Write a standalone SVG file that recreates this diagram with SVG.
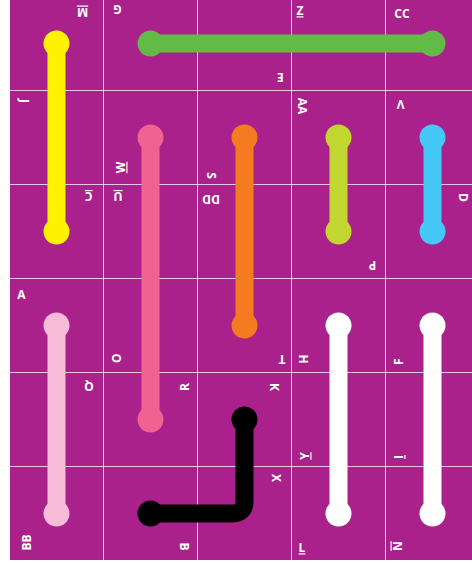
<svg xmlns="http://www.w3.org/2000/svg" width="472" height="563" viewBox="0 0 472 563">
<style>
.bg{fill:#aa218c}
.grid line{stroke:#ffffff;stroke-width:1;stroke-opacity:0.75}
.pipe{fill:none;stroke-width:18;stroke-linecap:butt;stroke-linejoin:round}
.lbl{font-family:"Open Sans","DejaVu Sans",sans-serif;font-weight:bold;font-size:12px;fill:#ffffff;text-anchor:middle}
.u{text-decoration:underline}
</style>
<rect x="0" y="0" width="472" height="563" fill="#ffffff"/>
<rect class="bg" x="10" y="0" width="462" height="560"/>
<g class="grid" id="grid">
<line x1="103.5" y1="0" x2="103.5" y2="560"/>
<line x1="197.5" y1="0" x2="197.5" y2="560"/>
<line x1="291.5" y1="0" x2="291.5" y2="560"/>
<line x1="385.5" y1="0" x2="385.5" y2="560"/>
<line x1="10" y1="90.5" x2="472" y2="90.5"/>
<line x1="10" y1="184.5" x2="472" y2="184.5"/>
<line x1="10" y1="278.5" x2="472" y2="278.5"/>
<line x1="10" y1="372.5" x2="472" y2="372.5"/>
<line x1="10" y1="466.5" x2="472" y2="466.5"/>
</g>
<g id="connectors">
<g id="pipe-yellow" stroke="#fff200" fill="#fff200"><path class="pipe" d="M56.5,43.5 V231.5"/><circle cx="56.5" cy="43.5" r="13" stroke="none"/><circle cx="56.5" cy="231.5" r="13" stroke="none"/></g>
<g id="pipe-green" stroke="#62bb47" fill="#62bb47"><path class="pipe" d="M150.5,43.5 H432.5"/><circle cx="150.5" cy="43.5" r="13" stroke="none"/><circle cx="432.5" cy="43.5" r="13" stroke="none"/></g>
<g id="pipe-pink" stroke="#f06292" fill="#f06292"><path class="pipe" d="M150.5,137.5 V419.5"/><circle cx="150.5" cy="137.5" r="13" stroke="none"/><circle cx="150.5" cy="419.5" r="13" stroke="none"/></g>
<g id="pipe-orange" stroke="#f47b20" fill="#f47b20"><path class="pipe" d="M244.5,137.5 V325.5"/><circle cx="244.5" cy="137.5" r="13" stroke="none"/><circle cx="244.5" cy="325.5" r="13" stroke="none"/></g>
<g id="pipe-lime" stroke="#c1d72f" fill="#c1d72f"><path class="pipe" d="M338.5,137.5 V231.5"/><circle cx="338.5" cy="137.5" r="13" stroke="none"/><circle cx="338.5" cy="231.5" r="13" stroke="none"/></g>
<g id="pipe-blue" stroke="#45c8f5" fill="#45c8f5"><path class="pipe" d="M432.5,137.5 V231.5"/><circle cx="432.5" cy="137.5" r="13" stroke="none"/><circle cx="432.5" cy="231.5" r="13" stroke="none"/></g>
<g id="pipe-lightpink" stroke="#f8bbd8" fill="#f8bbd8"><path class="pipe" d="M56.5,325.5 V513.5"/><circle cx="56.5" cy="325.5" r="13" stroke="none"/><circle cx="56.5" cy="513.5" r="13" stroke="none"/></g>
<g id="pipe-black" stroke="#000000" fill="#000000"><path class="pipe" d="M244.5,419.5 V501.5 Q244.5,513.5 232.5,513.5 H150.5"/><circle cx="244.5" cy="419.5" r="13" stroke="none"/><circle cx="150.5" cy="513.5" r="13" stroke="none"/></g>
<g id="pipe-white1" stroke="#ffffff" fill="#ffffff"><path class="pipe" d="M338.5,325.5 V513.5"/><circle cx="338.5" cy="325.5" r="13" stroke="none"/><circle cx="338.5" cy="513.5" r="13" stroke="none"/></g>
<g id="pipe-white2" stroke="#ffffff" fill="#ffffff"><path class="pipe" d="M432.5,325.5 V513.5"/><circle cx="432.5" cy="325.5" r="13" stroke="none"/><circle cx="432.5" cy="513.5" r="13" stroke="none"/></g>
</g>
<g id="labels">
<g id="lbl-M" transform="translate(82.5,12) rotate(180)"><text class="lbl u" x="0" y="4.3">M</text></g>
<g id="lbl-G" transform="translate(117.5,9) rotate(180)"><text class="lbl" x="0" y="4.3">G</text></g>
<g id="lbl-Z" transform="translate(300,11)"><text class="lbl u" x="0" y="4.3">Z</text></g>
<g id="lbl-CC" transform="translate(402,14)"><text class="lbl" x="0" y="4.3">CC</text></g>
<g id="lbl-E" transform="translate(280.5,77) rotate(180)"><text class="lbl" x="0" y="4.3">E</text></g>
<g id="lbl-J" transform="translate(24.5,101) rotate(90)"><text class="lbl" x="0" y="4.3">J</text></g>
<g id="lbl-W" transform="translate(121,167.5) rotate(-90)"><text class="lbl u" x="0" y="4.3">W</text></g>
<g id="lbl-S" transform="translate(211.5,175.5) rotate(90)"><text class="lbl" x="0" y="4.3">S</text></g>
<g id="lbl-C" transform="translate(88.7,196.5) rotate(180)"><text class="lbl u" x="0" y="4.3">C</text></g>
<g id="lbl-U" transform="translate(118,196.5) rotate(180)"><text class="lbl u" x="0" y="4.3">U</text></g>
<g id="lbl-DD" transform="translate(211,199) rotate(180)"><text class="lbl" x="0" y="4.3">DD</text></g>
<g id="lbl-AA" transform="translate(302,106) rotate(90)"><text class="lbl" x="0" y="4.3">AA</text></g>
<g id="lbl-V" transform="translate(400.7,104) rotate(180)"><text class="lbl" x="0" y="4.3">V</text></g>
<g id="lbl-D" transform="translate(463,197.5) rotate(90)"><text class="lbl" x="0" y="4.3">D</text></g>
<g id="lbl-P" transform="translate(372.5,265.5) rotate(180)"><text class="lbl" x="0" y="4.3">P</text></g>
<g id="lbl-A" transform="translate(21.3,294.3)"><text class="lbl" x="0" y="4.3">A</text></g>
<g id="lbl-O" transform="translate(116.7,358.3) rotate(90)"><text class="lbl" x="0" y="4.3">O</text></g>
<g id="lbl-Q" transform="translate(89,386.7) rotate(180)"><text class="lbl" x="0" y="4.3">Q</text></g>
<g id="lbl-R" transform="translate(184.7,387) rotate(-90)"><text class="lbl" x="0" y="4.3">R</text></g>
<g id="lbl-T" transform="translate(282,359.5) rotate(180)"><text class="lbl" x="0" y="4.3">T</text></g>
<g id="lbl-H" transform="translate(303.3,359) rotate(90)"><text class="lbl" x="0" y="4.3">H</text></g>
<g id="lbl-K" transform="translate(274,387) rotate(90)"><text class="lbl" x="0" y="4.3">K</text></g>
<g id="lbl-F" transform="translate(399,361.7) rotate(-90)"><text class="lbl" x="0" y="4.3">F</text></g>
<g id="lbl-Y" transform="translate(305,456) rotate(-90)"><text class="lbl u" x="0" y="4.3">Y</text></g>
<g id="lbl-I" transform="translate(399,457) rotate(-90)"><text class="lbl u" x="0" y="4.3">I</text></g>
<g id="lbl-X" transform="translate(276,478) rotate(90)"><text class="lbl" x="0" y="4.3">X</text></g>
<g id="lbl-BB" transform="translate(26.7,542.5) rotate(-90)"><text class="lbl" x="0" y="4.3">BB</text></g>
<g id="lbl-B" transform="translate(184,546.5) rotate(90)"><text class="lbl" x="0" y="4.3">B</text></g>
<g id="lbl-L" transform="translate(302,548)"><text class="lbl u" x="0" y="4.3">L</text></g>
<g id="lbl-N" transform="translate(397,546) rotate(90)"><text class="lbl u" x="0" y="4.3">N</text></g>
</g>
</svg>
